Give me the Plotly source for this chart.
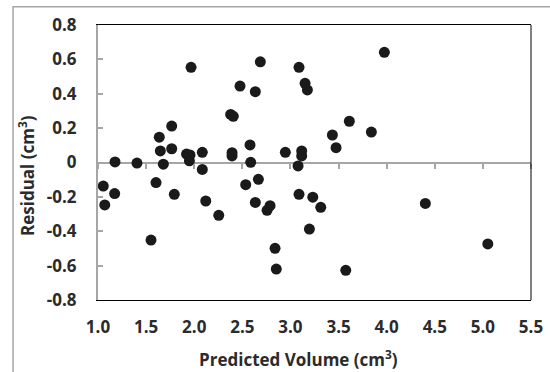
import plotly.graph_objects as go

predicted = [1.967, 1.766, 1.637, 1.648, 1.766, 1.920, 1.956, 1.950, 2.084, 1.177,
             1.405, 1.679, 1.055, 1.173, 1.070, 1.603, 1.793, 1.551, 2.084, 2.120,
             2.255, 2.535, 2.667, 2.587, 2.635, 2.788, 2.757, 2.840, 2.853, 3.079,
             3.089, 2.393, 2.393, 2.580, 2.947, 3.117, 3.117, 2.379, 2.406, 2.476,
             2.635, 2.687, 3.089, 3.152, 3.176, 3.976, 3.612, 3.436, 3.841, 3.474,
             3.232, 3.315, 3.197, 3.575, 4.402, 5.051]
residual = [0.554, 0.212, 0.147, 0.067, 0.080, 0.049, 0.044, 0.010, 0.059, 0.003,
            -0.003, -0.010, -0.137, -0.181, -0.247, -0.117, -0.185, -0.451, -0.040, -0.224,
            -0.307, -0.129, -0.098, 0.001, -0.232, -0.251, -0.278, -0.499, -0.620, -0.020,
            -0.185, 0.057, 0.038, 0.102, 0.059, 0.067, 0.038, 0.280, 0.269, 0.445,
            0.412, 0.586, 0.554, 0.461, 0.422, 0.641, 0.240, 0.160, 0.177, 0.086,
            -0.202, -0.261, -0.387, -0.627, -0.238, -0.474]

x_ticks = [1.0, 1.5, 2.0, 2.5, 3.0, 3.5, 4.0, 4.5, 5.0, 5.5]
x_ticktext = ["1.0", "1.5", "2.0", "2.5", "3.0", "3.5", "4.0", "4.5", "5.0", "5.5"]
y_ticks = [0.8, 0.6, 0.4, 0.2, 0, -0.2, -0.4, -0.6, -0.8]
y_ticktext = ["0.8", "0.6", "0.4", "0.2", "0", "-0.2", "-0.4", "-0.6", "-0.8"]

x_title = "Predicted Volume (cm<sup>3</sup>)"
y_title = "Residual (cm<sup>3</sup>)"

FONT = "Open Sans"
TXT = "#2b2b2b"
GRAY = "#a6a6a6"

# layout geometry (pixels): outer frame starts at (12, 6); plot box 98..531 x 25..300
W, H = 550, 372
L, T = 12, 6
PW, PH = W - L, H - T
xdom = [(98 - L) / PW, (531 - L) / PW]
ydom = [(H - 300) / PH, (H - 25) / PH]
zero_pos = (H - 162.5) / PH

fig = go.Figure()
fig.add_trace(go.Scatter(
    x=predicted, y=residual, mode="markers",
    marker=dict(size=11, color="#1a1a1a"),
    showlegend=False, hoverinfo="x+y",
))
fig.add_trace(go.Scatter(x=[], y=[], xaxis="x2", mode="markers", showlegend=False))

fig.update_layout(
    width=W, height=H, autosize=False,
    margin=dict(l=L, r=0, t=T, b=0, pad=0, autoexpand=False),
    paper_bgcolor="white", plot_bgcolor="white",
    font=dict(family=FONT, color=TXT, size=16),
    showlegend=False,
    xaxis=dict(
        domain=xdom, automargin=False,
        range=[1.0, 5.5], tickvals=x_ticks, ticktext=x_ticktext,
        showgrid=False, zeroline=False,
        showline=True, linecolor="black", linewidth=1, mirror=True,
        ticks="", ticklabelstandoff=12,
        tickfont=dict(family=FONT, size=17, color=TXT, weight="bold"),
    ),
    xaxis2=dict(
        domain=xdom, automargin=False,
        range=[1.0, 5.5], tickvals=x_ticks, overlaying="x", anchor="free", position=zero_pos,
        showgrid=False, zeroline=False, showline=False, showticklabels=False,
        ticks="outside", ticklen=5, tickcolor=GRAY, tickwidth=1.5,
    ),
    yaxis=dict(
        domain=ydom, automargin=False,
        range=[-0.8, 0.8], tickvals=y_ticks, ticktext=y_ticktext,
        showgrid=False,
        zeroline=True, zerolinecolor=GRAY, zerolinewidth=2,
        showline=True, linecolor=GRAY, linewidth=2,
        ticks="inside", ticklen=5, tickcolor=GRAY, tickwidth=1.5,
        ticklabelstandoff=16,
        tickfont=dict(family=FONT, size=17, color=TXT, weight="bold"),
    ),
    shapes=[
        # right edge of the plot box
        dict(type="line", xref="x domain", yref="y domain", x0=1, x1=1, y0=0, y1=1,
             line=dict(color="black", width=1)),
        # outer chart frame: left and top edges
        dict(type="path", xref="paper", yref="paper",
             path="M 0.002 0 L 0.002 0.998 L 1 0.998",
             line=dict(color=GRAY, width=1.5)),
    ],
    annotations=[
        dict(text=x_title, xref="paper", yref="paper",
             x=(298 - L) / PW, y=(H - 358) / PH,
             showarrow=False, xanchor="center", yanchor="middle",
             font=dict(family=FONT, size=17, color=TXT, weight="bold")),
        dict(text=y_title, xref="paper", yref="paper",
             x=(27 - L) / PW, y=(H - 176) / PH,
             showarrow=False, xanchor="center", yanchor="middle", textangle=-90,
             font=dict(family=FONT, size=17, color=TXT, weight="bold")),
    ],
)

fig.write_html(
    "out.html", config={"displayModeBar": False},
    post_script=("document.body.style.margin='0';document.body.style.padding='0';"
                 "document.documentElement.style.overflow='hidden';"
                 "document.body.style.overflow='hidden';"),
)
